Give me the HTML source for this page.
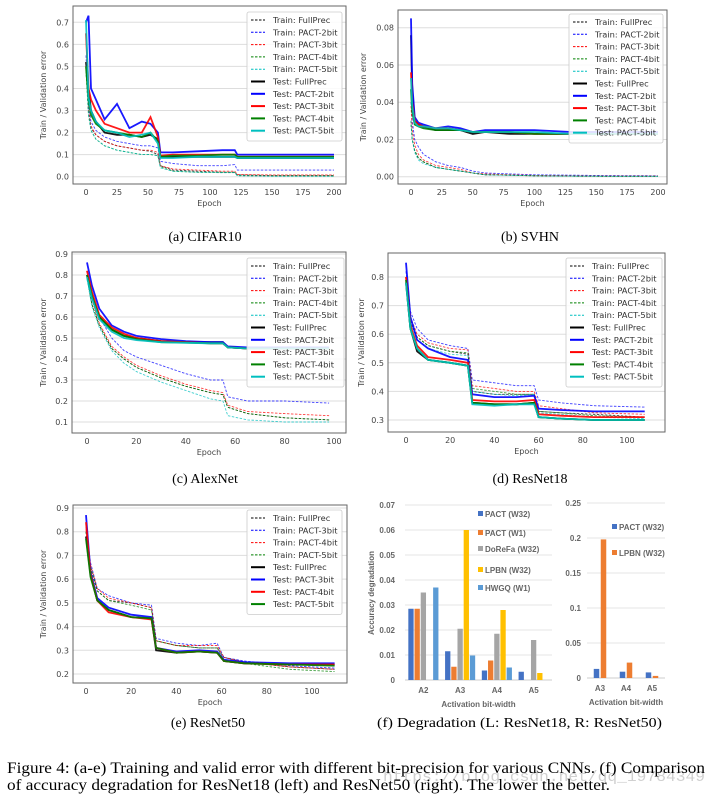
<!DOCTYPE html>
<html><head><meta charset="utf-8">
<style>
body{margin:0;background:#fff;width:712px;height:800px;overflow:hidden}
svg{display:block}
.tk{font-family:"DejaVu Sans","Liberation Sans",sans-serif;font-size:8px;fill:#444}
.lg{font-family:"DejaVu Sans","Liberation Sans",sans-serif;font-size:8.3px;fill:#333}
.cap{font-family:"Liberation Serif",serif;font-size:14px;fill:#000}
.fcap{font-family:"Liberation Serif",serif;font-size:16px;fill:#000}
.xl{font-family:"Liberation Sans",sans-serif;font-size:8px;fill:#666;font-weight:bold}
</style></head><body>
<svg id="fig" width="712" height="800" viewBox="0 0 712 800">
<text class="cap" x="205" y="241" text-anchor="middle">(a) CIFAR10</text>
<text class="cap" x="530" y="241" text-anchor="middle">(b) SVHN</text>
<text class="cap" x="205" y="483" text-anchor="middle">(c) AlexNet</text>
<text class="cap" x="530" y="483" text-anchor="middle">(d) ResNet18</text>
<text class="cap" x="208" y="727" text-anchor="middle">(e) ResNet50</text>
<text class="cap" x="377" y="727" textLength="285" lengthAdjust="spacingAndGlyphs">(f) Degradation (L: ResNet18, R: ResNet50)</text>
<text x="383" y="781" textLength="322" lengthAdjust="spacingAndGlyphs" font-family="Liberation Mono,monospace" font-size="15" fill="#d0d0d0">https://blog.csdn.net/qq_19784349</text>
<text class="fcap" x="7" y="773" textLength="698" lengthAdjust="spacingAndGlyphs">Figure 4: (a-e) Training and valid error with different bit-precision for various CNNs. (f) Comparison</text>
<text class="fcap" x="7" y="790" textLength="603" lengthAdjust="spacingAndGlyphs">of accuracy degradation for ResNet18 (left) and ResNet50 (right). The lower the better.</text>
</svg>
<script>
// ---- Panel a: CIFAR10 ----
const aEpochs=[0,2,4,8,15,25,35,45,52,58,60,70,90,110,120,122,150,200];
const aTrainFP=[.5,.30,.22,.19,.16,.14,.13,.12,.115,.10,.05,.03,.025,.02,.02,.008,.005,.005];
const aTrain2=[.55,.32,.25,.21,.18,.16,.15,.14,.14,.13,.07,.06,.05,.05,.055,.03,.03,.03];
const aTrain3=[.5,.30,.23,.19,.16,.14,.13,.12,.12,.11,.05,.035,.03,.025,.025,.01,.008,.008];
const aTrain4=[.48,.28,.21,.17,.14,.12,.11,.10,.10,.095,.045,.025,.02,.02,.02,.005,.003,.003];
const aTrain5=[.48,.28,.21,.17,.14,.12,.11,.10,.10,.095,.04,.025,.02,.018,.018,.004,.002,.002];
const aTestFP=[.52,.40,.30,.25,.20,.19,.19,.18,.19,.17,.09,.09,.09,.09,.09,.085,.085,.085];
const aTest2=[.70,.73,.40,.35,.26,.33,.22,.25,.24,.20,.11,.11,.115,.12,.12,.10,.10,.10];
const aTest3=[.65,.40,.35,.30,.24,.22,.20,.20,.27,.18,.095,.10,.10,.10,.10,.09,.09,.09];
const aTest4=[.50,.35,.28,.24,.21,.20,.19,.18,.20,.16,.09,.095,.095,.10,.10,.09,.09,.09];
const aTest5=[.71,.36,.30,.25,.21,.20,.18,.19,.20,.15,.085,.085,.09,.09,.09,.085,.085,.085];
const aYTicks=[0,0.1,0.2,0.3,0.4,0.5,0.6,0.7];
const aXTicks=[0,25,50,75,100,125,150,175,200];
// ---- Panel b: SVHN ----
const bEpochs=[0,1,3,6,10,20,30,40,50,60,80,100,130,160,200];
const bTrainFP=[.03,.02,.014,.010,.008,.005,.004,.003,.002,.001,.0008,.0005,.0003,.0002,.0002];
const bTrain2=[.04,.03,.02,.016,.012,.008,.006,.005,.003,.002,.0015,.001,.0008,.0006,.0005];
const bTrain3=[.038,.025,.017,.012,.009,.006,.005,.004,.002,.0015,.001,.0007,.0005,.0003,.0003];
const bTrain4=[.028,.02,.014,.010,.008,.005,.004,.003,.002,.001,.0008,.0005,.0003,.0002,.0002];
const bTrain5=[.03,.02,.013,.009,.007,.005,.004,.003,.002,.001,.0008,.0005,.0003,.0002,.0002];
const bTestFP=[.076,.045,.030,.028,.027,.025,.025,.025,.023,.024,.023,.023,.023,.023,.023];
const bTest2=[.085,.05,.032,.029,.028,.026,.027,.026,.024,.025,.025,.025,.024,.024,.024];
const bTest3=[.056,.04,.03,.028,.027,.026,.026,.025,.024,.024,.024,.023,.023,.023,.023];
const bTest4=[.047,.035,.028,.027,.026,.025,.025,.025,.024,.024,.024,.023,.023,.023,.023];
const bTest5=[.053,.038,.029,.027,.027,.026,.026,.025,.024,.024,.024,.024,.023,.023,.023];
const bYTicks=[0,0.02,0.04,0.06,0.08];
const bYLabels=["0.00","0.02","0.04","0.06","0.08"];
const bXTicks=[0,25,50,75,100,125,150,175,200];
// ---- Panel c: AlexNet ----
const cEpochs=[0,2,5,10,15,20,30,40,50,55,57,65,80,98];
const cTrainFP=[.79,.66,.56,.45,.40,.36,.31,.27,.24,.23,.17,.14,.12,.11];
const cTrain2=[.82,.70,.60,.50,.44,.41,.37,.33,.30,.30,.22,.20,.20,.19];
const cTrain3=[.80,.68,.57,.46,.41,.37,.32,.28,.25,.24,.18,.15,.14,.13];
const cTrain4=[.79,.66,.56,.45,.40,.36,.31,.27,.24,.23,.17,.14,.12,.11];
const cTrain5=[.78,.65,.55,.44,.38,.34,.29,.25,.21,.20,.13,.11,.10,.10];
const cTestFP=[.80,.70,.60,.54,.51,.50,.485,.48,.48,.48,.455,.45,.45,.45];
const cTest2=[.86,.75,.64,.56,.53,.51,.495,.485,.48,.48,.46,.455,.455,.455];
const cTest3=[.82,.72,.61,.55,.52,.50,.485,.48,.475,.475,.455,.45,.45,.45];
const cTest4=[.80,.70,.60,.54,.51,.495,.48,.478,.475,.475,.455,.45,.45,.45];
const cTest5=[.79,.69,.59,.53,.50,.49,.48,.477,.475,.475,.455,.45,.45,.45];
const cYTicks=[0.1,0.2,0.3,0.4,0.5,0.6,0.7,0.8,0.9];
const cXTicks=[0,20,40,60,80,100];
// ---- Panel d: ResNet18 ----
const dEpochs=[0,2,5,10,20,28,30,40,50,58,60,70,85,108];
const dTrainFP=[.80,.64,.59,.56,.54,.53,.40,.39,.39,.39,.33,.325,.32,.31];
const dTrain2=[.82,.68,.62,.58,.56,.55,.44,.43,.42,.42,.37,.36,.35,.345];
const dTrain3=[.80,.66,.60,.57,.55,.545,.42,.41,.40,.40,.35,.34,.325,.32];
const dTrain4=[.80,.65,.59,.56,.54,.535,.41,.40,.39,.39,.33,.325,.315,.31];
const dTrain5=[.79,.64,.58,.55,.53,.525,.40,.39,.385,.39,.325,.32,.31,.305];
const dTestFP=[.78,.62,.54,.51,.50,.49,.36,.355,.355,.36,.31,.305,.30,.30];
const dTest2=[.85,.66,.58,.55,.52,.51,.39,.38,.38,.385,.34,.335,.33,.33];
const dTest3=[.80,.63,.56,.52,.51,.50,.37,.365,.365,.37,.32,.315,.31,.31];
const dTest4=[.79,.62,.55,.51,.50,.49,.36,.355,.355,.36,.31,.305,.30,.30];
const dTest5=[.78,.62,.55,.51,.50,.49,.355,.35,.355,.355,.31,.305,.30,.30];
const dYTicks=[0.3,0.4,0.5,0.6,0.7,0.8];
const dXTicks=[0,20,40,60,80,100];
// ---- Panel e: ResNet50 ----
const eEpochs=[0,2,5,10,20,29,31,40,50,58,61,70,90,110];
const eTrainFP=[.80,.65,.55,.51,.50,.48,.34,.32,.31,.31,.27,.25,.23,.22];
const eTrain3=[.82,.67,.56,.53,.50,.49,.35,.33,.32,.33,.27,.255,.235,.225];
const eTrain4=[.81,.66,.56,.52,.50,.48,.34,.32,.32,.32,.27,.25,.23,.22];
const eTrain5=[.80,.65,.55,.51,.49,.47,.34,.32,.31,.31,.26,.245,.22,.21];
const eTestFP=[.78,.62,.51,.47,.44,.435,.30,.29,.295,.29,.255,.245,.24,.24];
const eTest3=[.87,.63,.52,.48,.45,.44,.31,.295,.30,.295,.26,.25,.245,.245];
const eTest4=[.84,.62,.51,.46,.44,.43,.31,.29,.295,.29,.255,.245,.24,.24];
const eTest5=[.77,.61,.51,.47,.44,.435,.31,.29,.295,.29,.255,.245,.24,.235];
const eYTicks=[0.2,0.3,0.4,0.5,0.6,0.7,0.8,0.9];
const eXTicks=[0,20,40,60,80,100];
// ---- Panel f: bars ----
const fCats=["A2","A3","A4","A5"];
const fSeries=["PACT (W32)","PACT (W1)","DoReFa (W32)","LPBN (W32)","HWGQ (W1)"];
const fPactW32=[.0285,.0115,.0038,.0033];
const fPactW1=[.0285,.0053,.0078,0];
const fDoReFa=[.035,.0205,.0185,.016];
const fLPBN=[0,.060,.028,.0028];
const fHWGQ=[.037,.0098,.005,0];
const fYTicks=[0,0.01,0.02,0.03,0.04,0.05,0.06,0.07];
const gCats=["A3","A4","A5"];
const gSeries=["PACT (W32)","LPBN (W32)"];
const gPact=[.013,.009,.008];
const gLPBN=[.198,.022,.003];
const gYTicks=[0,0.05,0.1,0.15,0.2,0.25];

const NS="http://www.w3.org/2000/svg";
const fig=document.getElementById('fig');
function mk(tag,attrs,parent){const e=document.createElementNS(NS,tag);for(const k in attrs)e.setAttribute(k,attrs[k]);(parent||fig).appendChild(e);return e;}
const COLORS={fp:"#000",p2:"#0000ff",p3:"#ff0000",p4:"#008000",p5:"#00bfbf"};

function linePanel(id,g,epochs,series,yTicks,yLabels,xTicks,legend){
  const grp=mk('g',{});
  
  
  const X=v=>g.x0+(v-g.xa)/(g.xb-g.xa)*(g.x1-g.x0);
  const Y=v=>g.y0+(v-g.ya)/(g.yb-g.ya)*(g.y1-g.y0);
  yTicks.forEach((t,i)=>{
    const l=mk('line',{x1:g.fl,x2:g.fr,y1:Y(t),y2:Y(t),stroke:"#ddd","stroke-width":1},grp);
    
    
    const tx=mk('text',{class:'tk',x:g.fl-4,y:Y(t)+3,'text-anchor':'end'},grp);
    tx.textContent=yLabels?yLabels[i]:t.toFixed(1);
    
    
  });
  xTicks.forEach(t=>{
    const tx=mk('text',{class:'tk',x:X(t),y:g.fb+11,'text-anchor':'middle'},grp);
    tx.textContent=t;
    
    
  });
  series.forEach(s=>{
    const d=s.v.map((v,i)=>(i?'L':'M')+X(epochs[i]).toFixed(1)+','+Y(v).toFixed(1)).join('');
    const p=mk('path',{d:d,fill:'none',stroke:s.c,'stroke-width':s.test?1.8:0.9,'stroke-dasharray':s.test?'':'2.5,1.5',opacity:s.test?0.9:0.75},grp);
    
    
  });
  const fr=mk('rect',{x:g.fl,y:g.ft,width:g.fr-g.fl,height:g.fb-g.ft,fill:'none',stroke:'#666','stroke-width':1},grp);
  
  
  const xl=mk('text',{class:'tk',x:(g.fl+g.fr)/2,y:g.fb+22,'text-anchor':'middle'},grp);
  xl.textContent='Epoch';
  
  
  const yl=mk('text',{class:'tk',x:0,y:0,'text-anchor':'middle',transform:`translate(${g.yl},${(g.ft+g.fb)/2}) rotate(-90)`},grp);
  yl.textContent='Train / Validation error';
  
  
  const n=series.length, lh=12.3;
  const lb=mk('rect',{x:legend.x,y:legend.y,width:legend.w,height:n*lh+6,fill:'#fff','fill-opacity':0.85,stroke:'#ccc','stroke-width':0.8,rx:2},grp);
  
  
  series.forEach((s,i)=>{
    const yy=legend.y+8+i*lh;
    const l=mk('line',{x1:legend.x+4,x2:legend.x+18,y1:yy,y2:yy,stroke:s.c,'stroke-width':s.test?2:1,'stroke-dasharray':s.test?'':'2.5,1.5'},grp);
    
    
    const t=mk('text',{class:'lg',x:legend.x+26,y:yy+3},grp);
    t.textContent=s.n;
    
    
  });
}
function S(n,v,c,test){return {n:n,v:v,c:c,test:test};}
function std5(p){return [S('Train: FullPrec',p[0],COLORS.fp,0),S('Train: PACT-2bit',p[1],COLORS.p2,0),S('Train: PACT-3bit',p[2],COLORS.p3,0),S('Train: PACT-4bit',p[3],COLORS.p4,0),S('Train: PACT-5bit',p[4],COLORS.p5,0),
 S('Test: FullPrec',p[5],COLORS.fp,1),S('Test: PACT-2bit',p[6],COLORS.p2,1),S('Test: PACT-3bit',p[7],COLORS.p3,1),S('Test: PACT-4bit',p[8],COLORS.p4,1),S('Test: PACT-5bit',p[9],COLORS.p5,1)];}

linePanel('cifar10',{fl:73,fr:346,ft:6,fb:184,x0:86,x1:334,xa:0,xb:200,y0:176.7,y1:22.3,ya:0,yb:0.7,yl:46},
  aEpochs,std5([aTrainFP,aTrain2,aTrain3,aTrain4,aTrain5,aTestFP,aTest2,aTest3,aTest4,aTest5]),aYTicks,null,aXTicks,{x:247,y:12,w:95});
linePanel('svhn',{fl:398,fr:667,ft:10,fb:184,x0:411,x1:658,xa:0,xb:200,y0:176.7,y1:27.7,ya:0,yb:0.08,yl:366},
  bEpochs,std5([bTrainFP,bTrain2,bTrain3,bTrain4,bTrain5,bTestFP,bTest2,bTest3,bTest4,bTest5]),bYTicks,bYLabels,bXTicks,{x:569,y:14,w:94});
linePanel('alexnet',{fl:72,fr:346,ft:252,fb:433,x0:87,x1:334,xa:0,xb:100,y0:422,y1:254,ya:0.1,yb:0.9,yl:46},
  cEpochs,std5([cTrainFP,cTrain2,cTrain3,cTrain4,cTrain5,cTestFP,cTest2,cTest3,cTest4,cTest5]),cYTicks,null,cXTicks,{x:247,y:258,w:97});
linePanel('resnet18',{fl:388,fr:665,ft:253,fb:432,x0:406,x1:627,xa:0,xb:100,y0:420,y1:277,ya:0.3,yb:0.8,yl:364},
  dEpochs,std5([dTrainFP,dTrain2,dTrain3,dTrain4,dTrain5,dTestFP,dTest2,dTest3,dTest4,dTest5]),dYTicks,null,dXTicks,{x:566,y:258,w:96});
linePanel('resnet50',{fl:73,fr:347,ft:505,fb:683,x0:86,x1:312,xa:0,xb:100,y0:674,y1:508,ya:0.2,yb:0.9,yl:46},
  eEpochs,[S('Train: FullPrec',eTrainFP,COLORS.fp,0),S('Train: PACT-3bit',eTrain3,COLORS.p2,0),S('Train: PACT-4bit',eTrain4,COLORS.p3,0),S('Train: PACT-5bit',eTrain5,COLORS.p4,0),
  S('Test: FullPrec',eTestFP,COLORS.fp,1),S('Test: PACT-3bit',eTest3,COLORS.p2,1),S('Test: PACT-4bit',eTest4,COLORS.p3,1),S('Test: PACT-5bit',eTest5,COLORS.p4,1)],eYTicks,null,eXTicks,{x:247,y:510,w:95});

const BC=["#4472c4","#ed7d31","#a5a5a5","#ffc000","#5b9bd5"];
function barPanel(id,g,cats,series,vals,colors,yTicks,labels,leg){
  const grp=mk('g',{});
  
  
  const Y=v=>g.y0+(v/g.ymax)*(g.y1-g.y0);
  yTicks.forEach((t,i)=>{
    const l=mk('line',{x1:g.gl,x2:g.gr,y1:Y(t),y2:Y(t),stroke:i?'#e4e4e4':'#ccc','stroke-width':1},grp);
    
    
    const tx=mk('text',{class:'xl',x:g.tl,y:Y(t)+3,'text-anchor':'end'},grp);
    tx.textContent=labels[i];
    
    
  });
  const cw=(g.gr-g.gl)/cats.length;
  cats.forEach((c,ci)=>{
    const cx=g.gl+cw*(ci+0.5);
    const tx=mk('text',{class:'xl',x:cx,y:g.y0+13,'text-anchor':'middle'},grp);
    tx.textContent=c;
    
    
    vals.forEach((arr,si)=>{
      const v=arr[ci];
      const x=cx+(si-(vals.length-1)/2)*g.bs-g.bw/2;
      const r=mk('rect',{x:x,y:Y(v),width:g.bw,height:g.y0-Y(v),fill:colors[si]},grp);
      
      
    });
  });
  const xl=mk('text',{class:'xl',x:(g.gl+g.gr)/2,y:g.y0+27,'text-anchor':'middle'},grp);
  xl.textContent='Activation bit-width';
  
  
  leg.forEach((p,i)=>{
    const r=mk('rect',{x:p[0],y:p[1]-6,width:5,height:5,fill:colors[i]},grp);
    
    
    const t=mk('text',{class:'xl',x:p[0]+7,y:p[1]},grp);
    t.textContent=series[i];
    
    
  });
}
barPanel('resnet18-degradation',{gl:405,gr:552,y0:680,y1:505,ymax:0.07,tl:395,bw:5.3,bs:6.2},fCats,fSeries,[fPactW32,fPactW1,fDoReFa,fLPBN,fHWGQ],BC,fYTicks,["0","0.01","0.02","0.03","0.04","0.05","0.06","0.07"],
  [[478,517],[478,536],[478,552],[478,573],[478,591]]);
barPanel('resnet50-degradation',{gl:587,gr:665,y0:678,y1:503,ymax:0.25,tl:581,bw:5.5,bs:7},gCats,gSeries,[gPact,gLPBN],[BC[0],BC[1]],gYTicks,["0","0.05","0.1","0.15","0.2","0.25"],
  [[612,530],[612,556]]);
const yt=mk('text',{class:'xl',x:0,y:0,'text-anchor':'middle',transform:'translate(374,593) rotate(-90)'});
yt.textContent='Accuracy degradation';


</script>
</body></html>
